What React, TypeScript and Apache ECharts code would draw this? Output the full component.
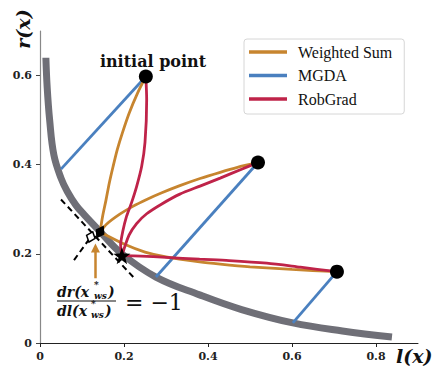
import React, { useEffect, useRef } from "react";
import * as echarts from "echarts";

// Pareto front (l, r)
const frontL = [0.014, 0.017, 0.023, 0.033, 0.05, 0.065, 0.085, 0.105, 0.143, 0.195, 0.276, 0.38, 0.48, 0.602, 0.72, 0.838];
const frontR = [0.64, 0.575, 0.5, 0.422, 0.37, 0.34, 0.31, 0.288, 0.25, 0.2, 0.148, 0.108, 0.075, 0.045, 0.027, 0.0135];

// initial points
const initL = [0.252, 0.519, 0.707];
const initR = [0.598, 0.405, 0.16];

// Weighted Sum trajectories
const ws1L = [0.252, 0.232, 0.212, 0.196, 0.184, 0.174, 0.165, 0.157, 0.149, 0.143];
const ws1R = [0.598, 0.56, 0.515, 0.471, 0.434, 0.396, 0.359, 0.32, 0.284, 0.249];
const ws2L = [0.519, 0.47, 0.429, 0.381, 0.333, 0.29, 0.254, 0.22, 0.19, 0.159, 0.143];
const ws2R = [0.405, 0.394, 0.383, 0.369, 0.353, 0.337, 0.322, 0.306, 0.289, 0.267, 0.249];
const ws3L = [0.707, 0.6, 0.5, 0.429, 0.38, 0.3, 0.25, 0.2, 0.143];
const ws3R = [0.16, 0.165, 0.171, 0.177, 0.182, 0.193, 0.204, 0.222, 0.249];

// MGDA trajectories (straight)
const mg1L = [0.252, 0.05];
const mg1R = [0.598, 0.39];
const mg2L = [0.519, 0.276];
const mg2R = [0.405, 0.148];
const mg3L = [0.707, 0.602];
const mg3R = [0.16, 0.045];

// RobGrad trajectories
const rg1L = [0.252, 0.254, 0.25, 0.242, 0.23, 0.218, 0.206, 0.197, 0.192, 0.195];
const rg1R = [0.598, 0.546, 0.45, 0.396, 0.351, 0.315, 0.284, 0.25, 0.22, 0.196];
const rg2L = [0.519, 0.48, 0.429, 0.381, 0.333, 0.29, 0.254, 0.23, 0.212, 0.195];
const rg2R = [0.405, 0.39, 0.37, 0.352, 0.334, 0.312, 0.29, 0.268, 0.242, 0.196];
const rg3L = [0.707, 0.62, 0.54, 0.45, 0.38, 0.3, 0.24, 0.195];
const rg3R = [0.16, 0.17, 0.179, 0.185, 0.188, 0.192, 0.195, 0.196];

// special points
const wsOpt = [0.143, 0.249];
const rgOpt = [0.195, 0.196];
const hollowPt = [0.121, 0.238];
const tangentL = [0.05, 0.222];
const tangentR = [0.322, 0.148];
const perpL = [0.081, 0.121];
const perpR = [0.186, 0.238];
const arrowL = [0.132, 0.132];
const arrowR = [0.145, 0.213];

const xTicks = [0, 0.2, 0.4, 0.6, 0.8];
const yTicks = [0, 0.2, 0.4, 0.6];
const names = ["Weighted Sum", "MGDA", "RobGrad"];

const ORANGE = "#c7852f";
const BLUE = "#4a80bf";
const RED = "#bf2349";
const GRAY = "#6f6f77";

const zip = (a: number[], b: number[]) => a.map((v, i) => [v, b[i]]);

const STAR = "path://M0,-10L2.35,-3.24L9.51,-3.09L3.8,1.24L5.88,8.09L0,4L-5.88,8.09L-3.8,1.24L-9.51,-3.09L-2.35,-3.24Z";
const MATH = "'DejaVu Serif', serif";

export default function App() {
  const ref = useRef<HTMLDivElement>(null);
  useEffect(() => {
    document.body.style.margin = "0";
    if (!ref.current) return;
    const chart = echarts.init(ref.current, null, { renderer: "svg" });
    const traj = (name: string, color: string, l: number[], r: number[], smooth: number | boolean) => ({
      type: "line",
      name,
      data: zip(l, r),
      smooth,
      symbol: "none",
      lineStyle: { color, width: 2.8 },
      itemStyle: { color },
      z: 3,
    });
    const dashed = (l: number[], r: number[]) => ({
      type: "line",
      data: zip(l, r),
      symbol: "none",
      lineStyle: { color: "#000", width: 2, type: [6, 4] },
      z: 4,
    });
    const txt = (x: number, y: number, text: string, size: number, extra: any = {}) => ({
      type: "text",
      x,
      y,
      z: 100,
      style: {
        text,
        fontFamily: MATH,
        fontSize: size,
        fontWeight: "bold",
        fontStyle: "italic",
        fill: "#111",
        verticalAlign: "middle",
        ...extra,
      },
    });
    chart.setOption({
      animation: false,
      grid: { left: 40, right: 17, top: 31, bottom: 26 },
      legend: {
        data: names,
        orient: "vertical",
        left: 244,
        top: 39,
        icon: "rect",
        itemWidth: 38,
        itemHeight: 3.5,
        itemGap: 7.5,
        padding: [5, 12, 7, 5],
        borderColor: "#d6d6d6",
        borderWidth: 1,
        borderRadius: 3,
        backgroundColor: "rgba(255,255,255,0.9)",
        textStyle: {
          fontFamily: "'Liberation Serif', serif",
          fontSize: 16,
          lineHeight: 16,
          color: "#111",
          padding: [0, 0, 0, 6],
        },
      },
      xAxis: {
        type: "value",
        min: 0,
        max: 0.9,
        interval: 0.2,
        splitLine: { show: false },
        axisLine: { lineStyle: { color: "#222", width: 1 } },
        axisTick: { show: true, length: 4, customValues: xTicks, lineStyle: { color: "#222" } },
        axisLabel: {
          customValues: xTicks,
          margin: 8,
          fontFamily: MATH,
          fontWeight: "bold",
          fontSize: 11,
          color: "#222",
          formatter: (v: number) => (v === 0 ? "0" : v.toFixed(1)),
        },
      },
      yAxis: {
        type: "value",
        min: 0,
        max: 0.7,
        interval: 0.2,
        splitLine: { show: false },
        axisLine: { show: true, lineStyle: { color: "#888", width: 1.2 } },
        axisTick: { show: true, length: 4, customValues: yTicks, lineStyle: { color: "#444" } },
        axisLabel: {
          customValues: yTicks,
          margin: 8,
          fontFamily: MATH,
          fontWeight: "bold",
          fontSize: 11,
          color: "#222",
          formatter: (v: number) => (v === 0 ? "0" : v.toFixed(1)),
        },
      },
      series: [
        {
          type: "line",
          name: "front",
          data: zip(frontL, frontR),
          smooth: 0.4,
          symbol: "none",
          lineStyle: { color: GRAY, width: 7 },
          z: 1,
        },
        traj("MGDA", BLUE, mg1L, mg1R, false),
        traj("MGDA", BLUE, mg2L, mg2R, false),
        traj("MGDA", BLUE, mg3L, mg3R, false),
        traj("Weighted Sum", ORANGE, ws1L, ws1R, 0.25),
        traj("Weighted Sum", ORANGE, ws2L, ws2R, 0.25),
        traj("Weighted Sum", ORANGE, ws3L, ws3R, 0.25),
        traj("RobGrad", RED, rg1L, rg1R, 0.25),
        traj("RobGrad", RED, rg2L, rg2R, 0.25),
        traj("RobGrad", RED, rg3L, rg3R, 0.25),
        dashed(tangentL, tangentR),
        dashed(perpL, perpR),
        {
          type: "lines",
          coordinateSystem: "cartesian2d",
          data: [{ coords: zip(arrowL, arrowR) }],
          symbol: ["none", "triangle"],
          symbolSize: [0, 9],
          lineStyle: { color: ORANGE, width: 2.5, opacity: 1 },
          itemStyle: { color: ORANGE },
          z: 5,
        },
        {
          type: "scatter",
          data: zip(initL, initR),
          symbol: "circle",
          symbolSize: 14,
          itemStyle: { color: "#000", opacity: 1 },
          z: 10,
        },
        {
          type: "scatter",
          data: [wsOpt],
          symbol: "diamond",
          symbolSize: [10, 15],
          symbolRotate: -30,
          itemStyle: { color: "#000", opacity: 1 },
          z: 10,
        },
        {
          type: "scatter",
          data: [hollowPt],
          symbol: "diamond",
          symbolSize: [9, 11],
          symbolRotate: -20,
          itemStyle: { color: "#fff", borderColor: "#000", borderWidth: 1.5, opacity: 1 },
          z: 10,
        },
        {
          type: "scatter",
          data: [rgOpt],
          symbol: STAR,
          symbolSize: 17,
          itemStyle: { color: "#000", opacity: 1 },
          z: 10,
        },
      ],
      graphic: [
        {
          type: "text",
          x: 153,
          y: 61,
          z: 100,
          style: {
            text: "initial point",
            fontFamily: MATH,
            fontSize: 16,
            fontWeight: "bold",
            fill: "#111",
            align: "center",
            verticalAlign: "middle",
          },
        },
        {
          type: "text",
          x: 23,
          y: 29,
          rotation: Math.PI / 2,
          z: 100,
          style: {
            text: "r(x)",
            fontFamily: MATH,
            fontSize: 19,
            fontWeight: "bold",
            fontStyle: "italic",
            fill: "#111",
            align: "center",
            verticalAlign: "middle",
          },
        },
        txt(396, 356, "l(x)", 19),
        // numerator
        txt(57, 292, "dr(x", 14),
        txt(94, 285, "*", 9),
        txt(94, 296, "ws", 9),
        txt(108, 292, ")", 14),
        // fraction bar
        {
          type: "line",
          z: 100,
          shape: { x1: 57, y1: 301, x2: 116, y2: 301 },
          style: { stroke: "#111", lineWidth: 1.2 },
        },
        // denominator
        txt(57, 311, "dl(x", 14),
        txt(91, 304, "*", 9),
        txt(91, 315, "ws", 9),
        txt(105, 311, ")", 14),
        {
          type: "text",
          x: 125,
          y: 302,
          z: 100,
          style: {
            text: "= −1",
            fontFamily: MATH,
            fontSize: 22,
            fill: "#111",
            verticalAlign: "middle",
          },
        },
      ],
    });
    return () => chart.dispose();
  }, []);
  return <div ref={ref} style={{ width: 435, height: 369 }} />;
}
